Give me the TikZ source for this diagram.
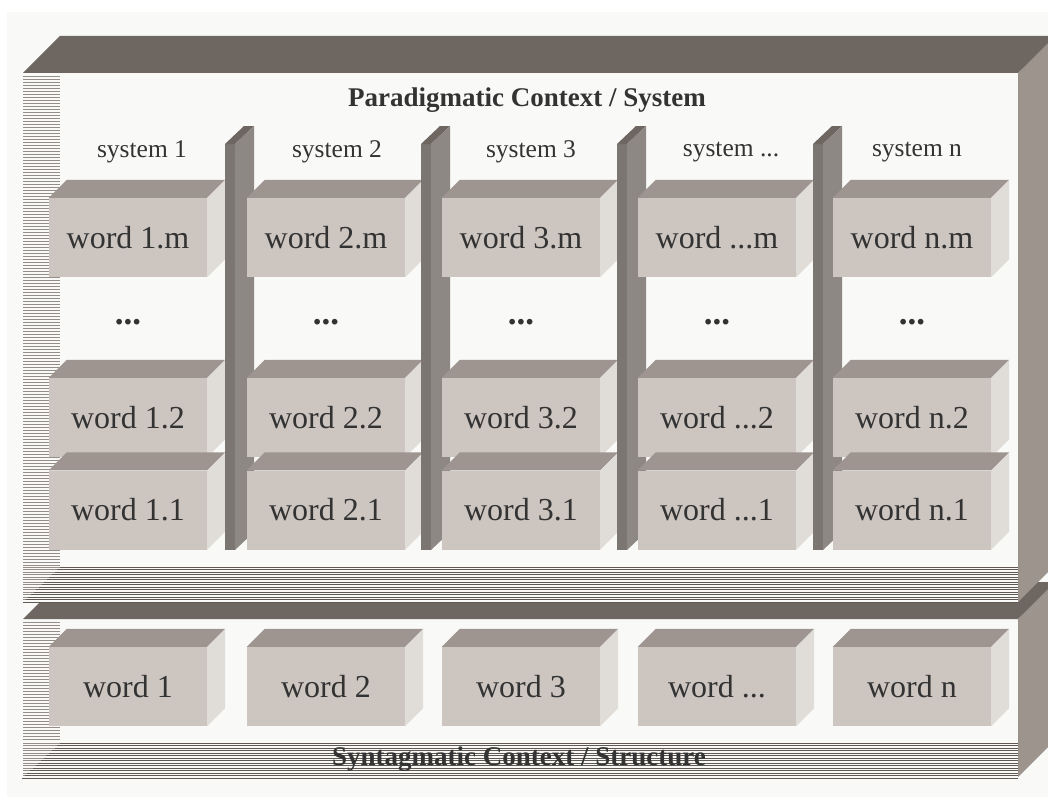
\documentclass[tikz,border=0pt]{standalone}
\usepackage{fontspec}
\setmainfont{Liberation Serif}
\definecolor{bgpaper}{HTML}{F9F9F7}
\definecolor{framedark}{HTML}{6E6661}
\definecolor{frameside}{HTML}{9C948D}
\definecolor{boxfront}{HTML}{CCC5C0}
\definecolor{boxtop}{HTML}{9E9590}
\definecolor{boxside}{HTML}{E0DDD8}
\definecolor{pillarfront}{HTML}{7B7672}
\definecolor{pillarside}{HTML}{8D8883}
\definecolor{wallline}{HTML}{958D87}
\definecolor{floorline}{HTML}{605853}
\definecolor{ink}{HTML}{333333}
\newcommand\tdots{...}
\newcommand\cubefaces[1]{%
  \fill[boxtop] (#1.north west) -- ++(18,-18) -- ([shift={(18,-18)}]#1.north east) -- (#1.north east) -- cycle;
  \fill[boxside] (#1.north east) -- ++(18,-18) -- ([shift={(18,-18)}]#1.south east) -- (#1.south east) -- cycle;}
\begin{document}
\begin{tikzpicture}[x=1pt, y=-1pt,
    wordbox/.style={fill=boxfront, minimum width=158pt, minimum height=79pt, inner sep=0pt,
      text=ink, font=\fontsize{32}{36}\selectfont},
    syslabel/.style={text=ink, inner sep=0pt, font=\fontsize{25.5}{30}\selectfont},
    dotlabel/.style={text=ink, inner sep=0pt, font=\fontsize{35}{40}\selectfont\bfseries},
    heading/.style={text=ink, inner sep=0pt, font=\fontsize{27}{32}\selectfont\bfseries},
    wall/.style={draw=wallline, line width=0.9pt},
    floor/.style={draw=floorline, line width=0.9pt}]
  \clip (0,0) rectangle (1048,797);
  \fill[white] (0,0) rectangle (1048,797);
  \fill[bgpaper] (7,12) rectangle (1048,797);

  \fill[framedark] (23,619) -- (60,582) -- (1060,582) -- (1018,619) -- cycle;
  \fill[frameside] (1018,619) -- (1055,582) -- (1060,582) -- (1060,740) -- (1055,740) -- (1018,777) -- cycle;
  \foreach \y in {622,625,...,741} \draw[wall] (23,\y) -- (60,\y);
  \foreach \y in {743,745.5,...,778} {
    \draw[wall] (23,\y) -- ({23+(777-\y)*37/34},\y);
    \draw[floor] ({23+(777-\y)*37/34},\y) -- (1018,\y);
  }
  \draw[wallline, dotted] (1018,619) -- (1018,777);

  \fill[bgpaper] (23,73) rectangle (1018,602);
  \fill[framedark] (23,73) -- (60,36) -- (1060,36) -- (1060,36) -- (1018,73) -- cycle;
  \fill[frameside] (1018,73) -- (1055,36) -- (1060,36) -- (1060,565) -- (1055,565) -- (1018,602) -- cycle;
  \foreach \y in {76,79,...,565} \draw[wall] (23,\y) -- (60,\y);
  \foreach \y in {567,569.5,...,603} {
    \draw[wall] (23,\y) -- ({23+(602-\y)*37/35},\y);
    \draw[floor] ({23+(602-\y)*37/35},\y) -- (1018,\y);
  }
  \draw[wallline, dotted] (1018,73) -- (1018,602);

  \node[heading] (para) at (527,100) {Paradigmatic Context / System};
  \node[heading] (synt) at (519,759) {Syntagmatic Context / Structure};

  \foreach \i/\p/\s/\x/\sx/\px in {1/1./1/128/142/225, 2/2./2/326/337/421, 3/3./3/521/531/617,
                                   4/\tdots/\tdots/717/731/813, 5/n./n/912/917/0} {
    \node[syslabel] (sys\i) at (\sx,152) {system \s};
    \node[wordbox] (w\i-m) at (\x,237.5) {word \p m};
    \cubefaces{w\i-m}
    \node[dotlabel] (dots\i) at (\x,322) {\tdots};
    \node[wordbox] (w\i-2) at (\x,417.5) {word \p 2};
    \cubefaces{w\i-2}
    \node[wordbox] (w\i-1) at (\x,510) {word \p 1};
    \cubefaces{w\i-1}
    \node[wordbox] (v\i) at (\x,686.5) {word \s};
    \cubefaces{v\i}
    \ifnum\i<5
      \fill[pillarfront] (\px,144) rectangle ++(10,406);
      \fill[framedark] (\px,144) -- ++(19,-18) -- ++(10,0) -- ++(-19,18) -- cycle;
      \fill[pillarside] (\px+10,144) -- ++(19,-18) -- ++(0,406) -- ++(-19,18) -- cycle;
    \fi
  }
\end{tikzpicture}
\end{document}
